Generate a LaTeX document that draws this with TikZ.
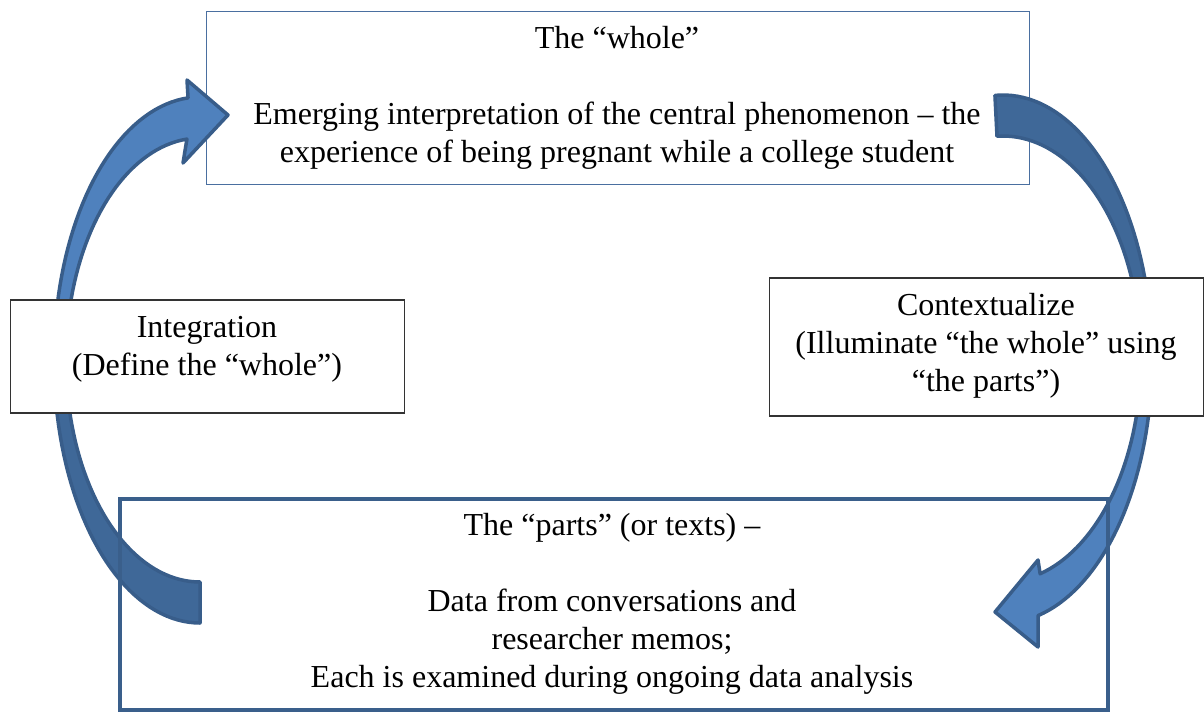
\documentclass[tikz,border=0pt]{standalone}
\usepackage{fontspec}
\setmainfont{Liberation Serif}
\definecolor{arrowlight}{HTML}{4F81BD}
\definecolor{arrowdark}{HTML}{3F6898}
\definecolor{arrowline}{HTML}{385D8A}
\definecolor{wholeline}{HTML}{4A6FA0}
\definecolor{partsline}{HTML}{3A5F8B}
\definecolor{boxline}{HTML}{333333}
\begin{document}
\begin{tikzpicture}[x=1pt,y=-1pt,
  txt/.style={align=center, font=\fontsize{32}{38}\selectfont, inner sep=0pt},
  frame/.style={rectangle, inner sep=0pt, anchor=north west},
  arrowborder/.style={draw=arrowline, line width=3.5pt, line join=round}]
\useasboundingbox (0,0) rectangle (1204,713);

% top box
\node[frame, draw=wholeline, line width=1.2pt, fill=white,
      minimum width=823.5pt, minimum height=173pt] (whole) at (205.5,11) {};

% left curved arrow
\fill[arrowdark] plot[domain=90:180,samples=40] ({200+146*cos(\x)},{360+263*sin(\x)})
  -- plot[domain=180:90,samples=40] ({200+134*cos(\x)},{360+222*sin(\x)}) -- cycle;
\fill[arrowlight] plot[domain=180:265.3,samples=40] ({200+146*cos(\x)},{360+263*sin(\x)})
  -- (187,80) -- (228,115) -- (183,163)
  -- plot[domain=264.4:180,samples=40] ({200+134*cos(\x)},{360+222*sin(\x)}) -- cycle;
\draw[arrowborder] plot[domain=90:265.3,samples=80] ({200+146*cos(\x)},{360+263*sin(\x)})
  -- (187,80) -- (228,115) -- (183,163)
  -- plot[domain=264.4:90,samples=80] ({200+134*cos(\x)},{360+222*sin(\x)}) -- cycle;

% right curved arrow
\fill[arrowdark] plot[domain=266.9:360,samples=40] ({1003+149*cos(\x)},{359+264*sin(\x)})
  -- plot[domain=360:267.5,samples=40] ({1003+138*cos(\x)},{359+223*sin(\x)}) -- cycle;
\fill[arrowlight] plot[domain=360:436.4,samples=40] ({1003+149*cos(\x)},{359+264*sin(\x)})
  -- (1038,647) -- (995,612) -- (1038,560)
  -- plot[domain=434.4:360,samples=40] ({1003+138*cos(\x)},{359+223*sin(\x)}) -- cycle;
\draw[arrowborder] plot[domain=266.9:436.4,samples=80] ({1003+149*cos(\x)},{359+264*sin(\x)})
  -- (1038,647) -- (995,612) -- (1038,560)
  -- plot[domain=434.4:267.5,samples=80] ({1003+138*cos(\x)},{359+223*sin(\x)}) -- cycle;

% side boxes
\node[frame, draw=boxline, line width=1.5pt, fill=white,
      minimum width=394pt, minimum height=113pt] (integ) at (9.5,299) {};
\node[frame, draw=boxline, line width=1.5pt, fill=white,
      minimum width=434pt, minimum height=138pt] (context) at (768.7,277) {};

% bottom box
\node[frame, draw=partsline, line width=4pt,
      minimum width=988pt, minimum height=211pt] (parts) at (118,497) {};

% texts
\node[txt] (wholetext) at (617,98) {The “whole”\\ \mbox{}\\ Emerging interpretation of the central phenomenon – the\\ experience of being pregnant while a college student};
\node[txt] (integtext) at (207,349) {Integration\\ (Define the “whole”)};
\node[txt] (contexttext) at (986,346) {Contextualize\\ (Illuminate “the whole” using\\ “the parts”)};
\node[txt] (partstext) at (612,604) {The “parts” (or texts) –\\ \mbox{}\\ Data from conversations and\\ researcher memos;\\ Each is examined during ongoing data analysis};
\end{tikzpicture}
\end{document}
